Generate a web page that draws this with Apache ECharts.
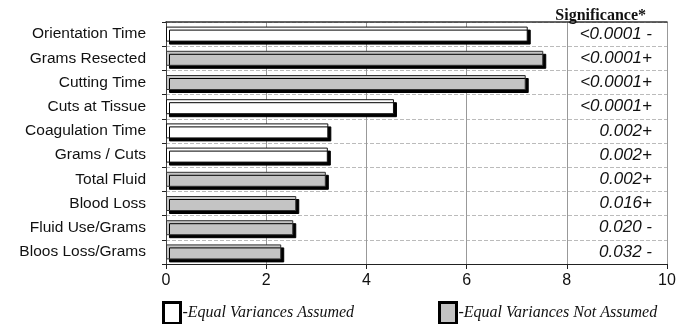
<!DOCTYPE html>
<html><head><meta charset="utf-8">
<script src="https://cdn.jsdelivr.net/npm/echarts@6/dist/echarts.min.js"></script>
<style>html,body{margin:0;padding:0;background:#fff}#c{width:690px;height:324px}</style>
</head><body><div id="c"></div>
<script>
var categories = ['Orientation Time','Grams Resected','Cutting Time','Cuts at Tissue','Coagulation Time','Grams / Cuts','Total Fluid','Blood Loss','Fluid Use/Grams','Bloos Loss/Grams'];
var values = [7.22, 7.53, 7.18, 4.55, 3.24, 3.23, 3.19, 2.6, 2.54, 2.3];
var equalVar = [true, false, false, true, true, true, false, false, false, false];
var significance = ['<0.0001 -','<0.0001+','<0.0001+','<0.0001+','0.002+','0.002+','0.002+','0.016+','0.020 -','0.032 -'];
var xTicks = [0,2,4,6,8,10];

var sA = values.map(function(v,i){return equalVar[i]?v:'-';});
var sB = values.map(function(v,i){return equalVar[i]?'-':v;});
var chart = echarts.init(document.getElementById('c'));
var shadow = {shadowColor:'#000', shadowBlur:0, shadowOffsetX:3, shadowOffsetY:3};
var legText = {fontFamily:'Liberation Serif', fontStyle:'italic', fontSize:16, color:'#111', padding:[0,0,0,-3]};
chart.setOption({
  animation:false,
  title:{text:'Significance*', right:39, top:3, textStyle:{fontFamily:'Liberation Serif', fontWeight:'bold', fontSize:16, color:'#111'}},
  legend:[
    {left:159, top:298, padding:3, icon:'rect', itemWidth:17, itemHeight:21, itemGap:4, data:['-Equal Variances Assumed'], textStyle:legText,
     itemStyle:{borderWidth:3, borderColor:'#000', shadowBlur:0, shadowOffsetX:0, shadowOffsetY:0}},
    {left:435, top:298, padding:3, icon:'rect', itemWidth:17, itemHeight:21, data:['-Equal Variances Not Assumed'], textStyle:legText,
     itemStyle:{borderWidth:3, borderColor:'#000', shadowBlur:0, shadowOffsetX:0, shadowOffsetY:0}}
  ],
  grid:{left:166, right:23, top:22, bottom:60},
  xAxis:[
    {type:'value', min:0, max:10, interval:2,
     axisLine:{show:true, lineStyle:{color:'#222', width:1}},
     axisTick:{show:true, length:5, lineStyle:{color:'#222'}},
     axisLabel:{fontFamily:'Liberation Sans', fontSize:16, color:'#111', margin:9, formatter:function(v){return xTicks.indexOf(v)>=0?String(v):'';}},
     splitLine:{show:true, lineStyle:{color:'#999', width:1}}},
    {type:'value', min:0, max:10, position:'top', axisLine:{show:true, lineStyle:{color:'#333', width:1.5}}, axisTick:{show:false}, axisLabel:{show:false}, splitLine:{show:false}}
  ],
  yAxis:[
    {type:'category', data:categories, inverse:true,
     axisLine:{show:true, lineStyle:{color:'#222'}},
     axisTick:{show:true, length:4, lineStyle:{color:'#222'}},
     axisLabel:{fontFamily:'Liberation Sans', fontSize:15.5, color:'#111', margin:20},
     splitLine:{show:true, lineStyle:{color:'#bbb', type:'dashed', width:1}}},
    {type:'category', data:significance, inverse:true, position:'right',
     axisLine:{show:true, lineStyle:{color:'#444'}},
     axisTick:{show:false},
     axisLabel:{inside:true, margin:15, fontFamily:'Liberation Sans', fontStyle:'italic', fontSize:17, color:'#111'}}
  ],
  series:[
    {name:'-Equal Variances Assumed', type:'bar', data:sA, barWidth:15, barGap:'-100%',
     itemStyle:Object.assign({color:'#fff', borderColor:'#111', borderWidth:1}, shadow)},
    {name:'-Equal Variances Not Assumed', type:'bar', data:sB, barWidth:15, barGap:'-100%',
     itemStyle:Object.assign({color:'#c4c4c4', borderColor:'#333', borderWidth:1}, shadow)}
  ]
});
</script></body></html>
